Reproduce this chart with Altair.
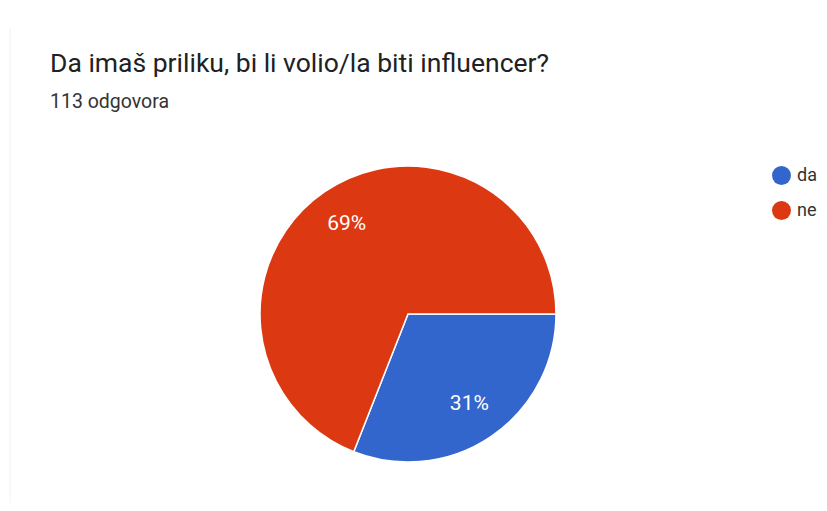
import altair as alt
import pandas as pd

categories = ["da", "ne"]
counts = [35, 78]
pct_labels = ["31%", "69%"]
colors = ["#3366CC", "#DC3912"]
title_text = "Da imaš priliku, bi li volio/la biti influencer?"
subtitle_text = "113 odgovora"

df = pd.DataFrame({"odgovor": categories, "broj": counts, "pct": pct_labels})

CX, CY, R = 400, 306, 148

base = alt.Chart(df).encode(
    theta=alt.Theta("broj:Q", stack=True,
                    scale=alt.Scale(range=[1.5707963, 7.8539816])),
    order=alt.Order("odgovor:N", sort="ascending"),
)

pie = base.mark_arc(radius=R, stroke="white", strokeWidth=1.5).encode(
    x=alt.value(CX), y=alt.value(CY),
    color=alt.Color("odgovor:N",
                    scale=alt.Scale(domain=categories, range=colors),
                    legend=alt.Legend(title=None, orient="none", legendX=764, legendY=158,
                                      symbolType="circle", symbolSize=361,
                                      symbolStrokeWidth=0,
                                      labelFont="Roboto", labelFontSize=18,
                                      labelColor="#333333", rowPadding=16,
                                      labelOffset=6, labelLimit=60)),
)

labels = base.mark_text(radius=109, font="Roboto", fontSize=21, color="white").encode(
    x=alt.value(CX), y=alt.value(CY),
    text="pct:N",
)

tdf = pd.DataFrame({"t": [title_text]})
sdf = pd.DataFrame({"t": [subtitle_text]})

title = alt.Chart(tdf).mark_text(align="left", baseline="alphabetic", font="Roboto",
                                 fontSize=26.5, color="#202124").encode(
    x=alt.value(42), y=alt.value(64), text="t:N")
subtitle = alt.Chart(sdf).mark_text(align="left", baseline="alphabetic", font="Roboto",
                                    fontSize=19.5, color="#333333").encode(
    x=alt.value(42), y=alt.value(100), text="t:N")

edge = alt.Chart(tdf).mark_rule(color="#f2f2f2", strokeWidth=1).encode(
    x=alt.value(2), y=alt.value(20), y2=alt.value(495))

chart = alt.layer(edge, pie, labels, title, subtitle).properties(
    width=811, height=495,
    autosize=alt.AutoSizeParams(type="fit", contains="padding"),
    padding=0,
).configure_view(stroke=None)

chart.save("out.html", embed_options={"renderer": "svg", "actions": False})
